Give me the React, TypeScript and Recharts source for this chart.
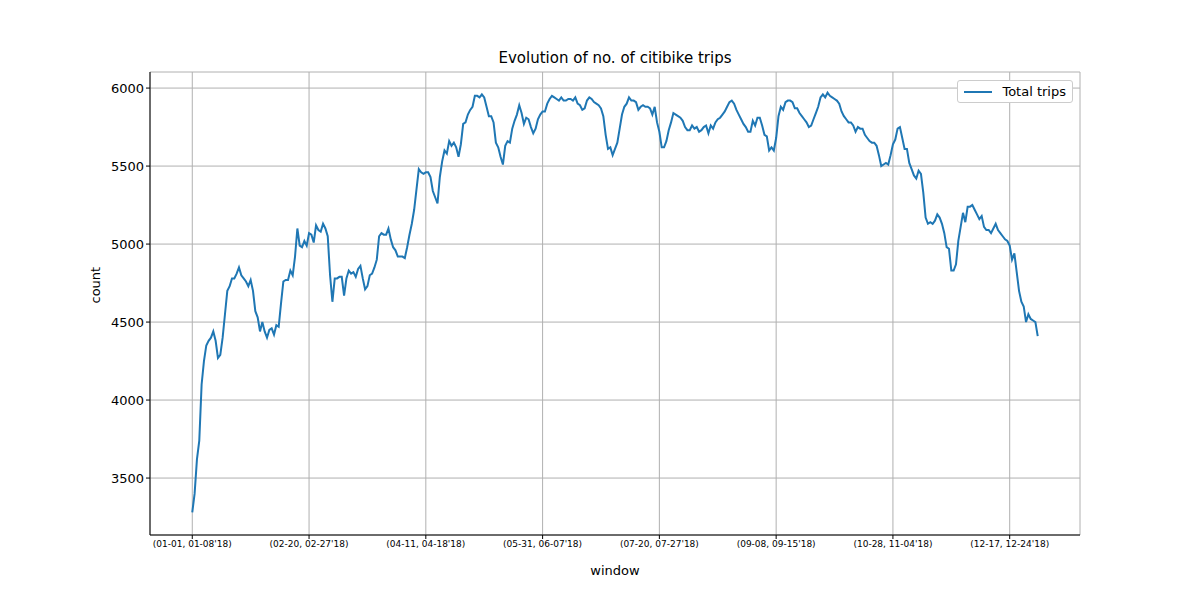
import React from "react";
import { LineChart, Line, XAxis, YAxis, CartesianGrid, Legend } from "recharts";

const totalTrips: number[] = [
3280,3400,3620,3740,4100,4250,4350,4380,4400,4440,4380,4270,4290,4400,4550,4700,4730,4780,4780,4810,
4850,4800,4780,4760,4730,4770,4700,4570,4530,4440,4500,4440,4400,4450,4460,4420,4480,4470,4620,4760,
4770,4770,4830,4800,4920,5100,4990,4980,5020,4990,5070,5060,5010,5120,5090,5080,5130,5100,5050,4800,
4630,4780,4780,4790,4790,4670,4780,4830,4810,4820,4790,4840,4860,4780,4710,4730,4800,4810,4850,4900,
5050,5070,5060,5060,5100,5030,4980,4960,4920,4920,4920,4910,4980,5060,5130,5220,5350,5480,5460,5450,
5460,5460,5430,5340,5300,5260,5430,5530,5600,5580,5660,5630,5650,5620,5560,5640,5770,5780,5830,5860,
5880,5950,5950,5940,5960,5940,5880,5820,5820,5780,5650,5620,5560,5510,5630,5660,5650,5740,5790,5830,
5890,5840,5770,5810,5800,5750,5710,5740,5800,5830,5850,5850,5900,5930,5950,5940,5930,5920,5940,5920,
5920,5930,5930,5920,5940,5900,5890,5860,5870,5920,5940,5930,5910,5900,5890,5870,5820,5700,5610,5620,
5570,5610,5650,5740,5830,5880,5900,5940,5920,5920,5910,5860,5880,5890,5880,5880,5870,5830,5880,5780,
5720,5620,5620,5660,5730,5780,5840,5830,5820,5810,5790,5750,5730,5730,5760,5740,5750,5720,5730,5750,
5760,5710,5760,5740,5780,5800,5810,5830,5850,5880,5910,5920,5900,5860,5830,5800,5770,5750,5720,5720,
5790,5760,5810,5810,5760,5700,5690,5600,5620,5600,5680,5820,5880,5860,5910,5920,5920,5910,5870,5870,
5840,5820,5800,5780,5750,5760,5800,5840,5880,5940,5960,5940,5970,5950,5940,5930,5920,5900,5850,5820,
5800,5780,5780,5760,5720,5750,5740,5740,5700,5680,5660,5650,5650,5630,5570,5500,5510,5520,5510,5570,
5640,5670,5740,5750,5680,5610,5610,5520,5480,5440,5420,5470,5450,5330,5170,5130,5140,5130,5150,5190,
5170,5130,5070,4980,4970,4830,4830,4870,5020,5110,5200,5140,5240,5240,5250,5220,5190,5160,5180,5110,
5090,5090,5070,5100,5130,5090,5070,5050,5030,5020,4990,4900,4940,4820,4700,4630,4600,4500,4550,4520,
4510,4500,4410
];

const xTickIndex = [0, 50, 100, 150, 200, 250, 300, 350];
const xTickLabels = [
  "(01-01, 01-08'18)", "(02-20, 02-27'18)", "(04-11, 04-18'18)", "(05-31, 06-07'18)",
  "(07-20, 07-27'18)", "(09-08, 09-15'18)", "(10-28, 11-04'18)", "(12-17, 12-24'18)",
];
const yTicks = [3500, 4000, 4500, 5000, 5500, 6000];

const data = totalTrips.map((v, i) => ({ i, v }));
const N = totalTrips.length - 1;
const font = "DejaVu Sans, sans-serif";

export default function App() {
  return (
    <div style={{ position: "absolute", left: 0, top: 0, width: 1200, height: 600, background: "#fff", fontFamily: font }}>
      <div style={{ position: "absolute", top: 49, left: 150, width: 930, textAlign: "center", fontSize: 15 }}>
        Evolution of no. of citibike trips
      </div>
      <LineChart width={1200} height={600} data={data} margin={{ top: 72, right: 120, bottom: 35, left: 90 }}>
        <CartesianGrid stroke="#b0b0b0" strokeWidth={1} />
        <XAxis
          dataKey="i" type="number" domain={[-0.05 * N, N * 1.05]} ticks={xTickIndex}
          tickFormatter={(v: number) => xTickLabels[xTickIndex.indexOf(v)] ?? ""}
          tick={{ fontSize: 9, fill: "#000", fontFamily: font }} stroke="#000" tickSize={4} interval={0}
          height={30}
          label={{ value: "window", position: "insideBottom", offset: -10, fill: "#000", fontSize: 13, fontFamily: font }}
        />
        <XAxis xAxisId="top" orientation="top" dataKey="i" type="number" domain={[-0.05 * N, N * 1.05]} tick={false} tickLine={false} stroke="#000" height={0} />
        <YAxis
          domain={[3135, 6103]} ticks={yTicks} type="number" allowDataOverflow
          tick={{ fontSize: 13, fill: "#000", fontFamily: font }} stroke="#000" tickSize={4} width={60}
          label={{ value: "count", angle: -90, position: "insideLeft", offset: 0, dx: 5, fill: "#000", fontSize: 13, fontFamily: font }}
        />
        <YAxis yAxisId="right" orientation="right" tick={false} tickLine={false} stroke="#000" width={0} />
        <Legend
          verticalAlign="top" align="right"
          content={() => (
            <div style={{ position: "absolute", top: 80, right: 127, border: "1px solid #ccc", borderRadius: 3, padding: "3px 6px", background: "#fff", fontSize: 13, display: "flex", alignItems: "center", fontFamily: font }}>
              <span style={{ display: "inline-block", width: 28, height: 2, background: "#1f77b4", marginRight: 10 }} />
              Total trips
            </div>
          )}
          wrapperStyle={{ top: 0, left: 0, width: 1200 }}
        />
        <Line dataKey="v" stroke="#1f77b4" strokeWidth={2} dot={false} isAnimationActive={false} />
      </LineChart>
    </div>
  );
}
